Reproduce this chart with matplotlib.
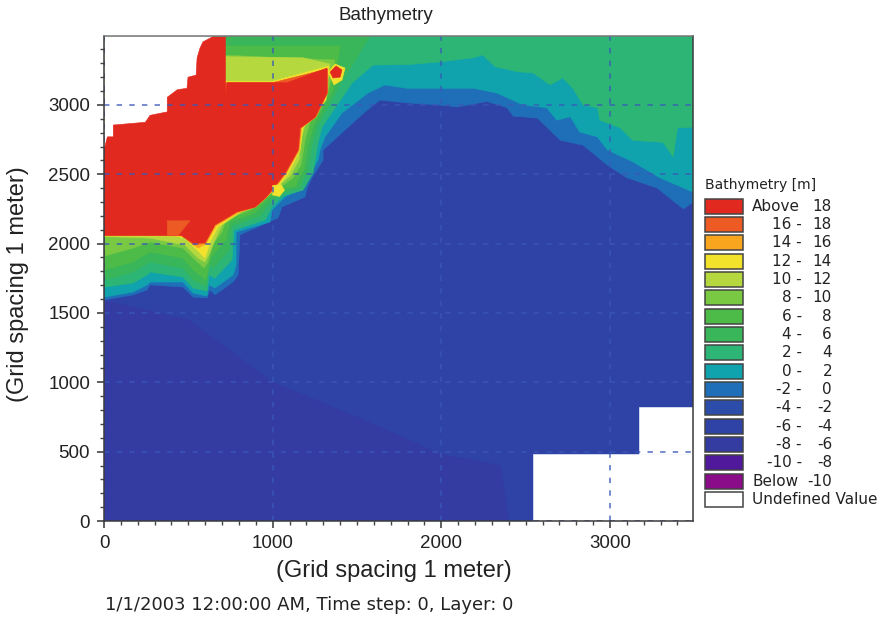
import matplotlib
matplotlib.use("Agg")
import matplotlib.pyplot as plt
from matplotlib.patches import Rectangle
from matplotlib.ticker import MultipleLocator

plt.rcParams['font.family'] = ['Liberation Sans', 'DejaVu Sans']

# legend classes, top to bottom
low_labels = ['', '16 -', '14 -', '12 -', '10 -', '8 -', '6 -', '4 -', '2 -', '0 -',
              '-2 -', '-4 -', '-6 -', '-8 -', '-10 -', '']
high_labels = ['18', '18', '16', '14', '12', '10', '8', '6', '4', '2',
               '0', '-2', '-4', '-6', '-8', '-10']
class_colors = ['#e2291f', '#ee5a24', '#f9a61e', '#f2e22c', '#b5d83f', '#7ac943',
                '#4dbb47', '#39b55a', '#2db575', '#10a3ae', '#1f6fb8', '#2b4ca8',
                '#2f42a6', '#343ca2', '#50189b', '#8b0c88']

# contour lines, (x, y) in meters, east to west
# each one is the top edge of its class
c_m6 = [(0, 1590), (500, 1450), (1000, 1000), (1500, 750), (2000, 480), (2350, 400),
        (2400, 0), (0, 0)]
c_m2 = [(3495, 2300), (3435, 2250), (3280, 2400), (3100, 2475), (2985, 2565), (2840, 2710),
        (2705, 2745), (2570, 2905), (2425, 2920), (2390, 2980), (2270, 3025), (2095, 2985),
        (1990, 3000), (1795, 3015), (1635, 3035), (1547, 2949), (1429, 2819), (1299, 2675),
        (1299, 2603), (1233, 2473), (1204, 2401), (1192, 2336), (1055, 2264), (1032, 2185),
        (806, 2063), (795, 1774), (765, 1723), (658, 1630), (628, 1666), (611, 1608),
        (528, 1615), (468, 1687), (273, 1702), (255, 1666), (172, 1630), (5, 1595), (0, 1595)]
c_0 = [(3495, 2370), (3295, 2475), (3135, 2590), (2985, 2675), (2925, 2770), (2820, 2805),
       (2765, 2915), (2685, 2890), (2625, 2980), (2485, 3000), (2330, 3085), (2190, 3120),
       (1990, 3120), (1795, 3120), (1666, 3144), (1565, 3086), (1411, 2942), (1310, 2769),
       (1281, 2675), (1269, 2603), (1222, 2495), (1192, 2408), (1073, 2336), (996, 2242),
       (984, 2156), (783, 2084), (783, 1846), (765, 1774), (658, 1680), (623, 1702),
       (611, 1622), (528, 1644), (468, 1723), (273, 1723), (255, 1702), (172, 1651),
       (5, 1615), (0, 1615)]
c_2 = [(3495, 2840), (3400, 2835), (3375, 2625), (3315, 2730), (3135, 2745), (3060, 2835),
       (2940, 2890), (2925, 2980), (2840, 3000), (2780, 3120), (2720, 3195), (2645, 3145),
       (2545, 3230), (2450, 3240), (2320, 3275), (2245, 3360), (2190, 3340), (1990, 3310),
       (1795, 3290), (1595, 3288), (1471, 3158), (1293, 2841), (1269, 2725), (1239, 2509),
       (1204, 2437), (1180, 2386), (1061, 2343), (996, 2264), (955, 2170), (771, 2098),
       (759, 1882), (658, 1752), (623, 1774), (611, 1658), (528, 1680), (468, 1759),
       (273, 1795), (255, 1774), (172, 1716), (5, 1687), (0, 1687)]
c_4 = [(1577, 3497), (1400, 3144), (1269, 2855), (1233, 2711), (1210, 2531), (1174, 2444),
       (1162, 2401), (1050, 2365), (972, 2278), (925, 2199), (759, 2127), (741, 1954),
       (700, 1896), (646, 1824), (623, 1846), (605, 1694), (528, 1738), (468, 1824),
       (273, 1867), (172, 1795), (5, 1738), (0, 1738)]
c_6 = [(1400, 3425), (1358, 3107), (1245, 2855), (1210, 2711), (1186, 2531), (1150, 2459),
       (1139, 2415), (1032, 2386), (949, 2293), (895, 2221), (747, 2156), (723, 2026),
       (670, 1954), (634, 1896), (605, 1738), (528, 1810), (468, 1896), (273, 1939),
       (172, 1867), (5, 1810), (0, 1810)]
c_8 = [(1370, 3324), (1334, 3122), (1222, 2877), (1192, 2747), (1168, 2567), (1121, 2473),
       (1038, 2401), (925, 2300), (866, 2242), (723, 2170), (700, 2084), (646, 1997),
       (617, 1867), (593, 1824), (528, 1896), (468, 1968), (273, 2012), (172, 1968),
       (5, 1911), (0, 3396)]
c_10 = [(1340, 3295), (1322, 3144), (1204, 2891), (1174, 2783), (1156, 2603), (1103, 2487),
        (1014, 2394), (913, 2307), (806, 2221), (700, 2134), (658, 2026), (628, 1939),
        (599, 1867), (557, 1896), (480, 1990), (273, 2040), (5, 2050), (0, 3360), (1180, 3340)]
c_12 = [(1334, 3281), (1316, 3035), (1180, 2834), (1162, 2675), (1091, 2502), (1008, 2379),
        (919, 2307), (789, 2213), (676, 2120), (634, 2026), (599, 1896), (551, 1954),
        (480, 2040), (421, 2055), (5, 2055), (0, 3170), (1000, 3170)]
c_14 = [(1328, 3252), (1328, 3090), (1258, 2913), (1172, 2834), (1158, 2675), (1083, 2509),
        (1004, 2386), (961, 2329), (900, 2264), (795, 2221), (664, 2127), (605, 1997),
        (557, 1968), (463, 2055), (5, 2060), (0, 3160), (1000, 3160)]
c_16 = [(1325, 3260), (1325, 3088), (1255, 2913), (1167, 2834), (1154, 2675), (1078, 2509),
        (1000, 2386), (958, 2329), (897, 2264), (789, 2228), (658, 2134), (599, 2004),
        (534, 1990), (457, 2060), (5, 2060), (0, 3160), (1000, 3160)]
land = [(640, 3490), (720, 3490), (720, 3050), (730, 3160), (1085, 3160), (1322, 3266),
        (1322, 3086), (1251, 2913), (1162, 2834), (1150, 2675), (1073, 2509), (996, 2386),
        (955, 2329), (895, 2264), (789, 2230), (658, 2135), (599, 2005), (530, 2005),
        (457, 2060), (0, 2060), (0, 2675), (20, 2770), (55, 2770), (55, 2855), (245, 2875),
        (273, 2925), (375, 2950), (375, 3055), (435, 3110), (492, 3120), (498, 3200),
        (546, 3215), (552, 3340), (569, 3410), (587, 3455), (634, 3485)]
patch_16 = [(375, 2060), (375, 2165), (510, 2165), (440, 2060)]
spot_yellow = [(1328, 3237), (1370, 3295), (1429, 3266), (1411, 3180), (1364, 3144)]
spot_red = [(1340, 3237), (1376, 3281), (1411, 3252), (1400, 3201), (1358, 3194)]
spot_coast = [(1000, 2420), (1050, 2425), (1070, 2385), (1040, 2340), (1000, 2350)]
undefined_nw = [(0, 3497), (640, 3497), (640, 2675), (0, 2675)]
undefined_se1 = [(2545, 0), (3500, 0), (3500, 483), (2545, 483)]
undefined_se2 = [(3170, 483), (3500, 483), (3500, 820), (3170, 820)]

fig = plt.figure(figsize=(8.84, 6.19), dpi=100, facecolor='white')
W, H = 884.0, 619.0
ax = fig.add_axes([104 / W, 1 - 521 / H, 589 / W, 485 / H])
ax.set_facecolor(class_colors[12])


def poly(points, color, z):
    xs = [p[0] for p in points]
    ys = [p[1] for p in points]
    ax.fill(xs, ys, color=color, lw=0.4, zorder=z)


def region(line, color, z):
    # everything north-west of the contour
    poly(line + [(0, 3497), (3500, 3497)], color, z)


poly(c_m6, class_colors[13], 1)
region(c_m2, class_colors[10], 2)
region(c_0, class_colors[9], 3)
region(c_2, class_colors[8], 4)
poly(c_4 + [(0, 3497)], class_colors[7], 5)
poly(c_6 + [(0, 3425)], class_colors[6], 6)
poly(c_8, class_colors[5], 7)
poly(c_10, class_colors[4], 8)
poly(c_12, class_colors[3], 9)
poly(c_14, class_colors[2], 10)
poly(c_16, class_colors[1], 11)
poly(undefined_nw, 'white', 12)
poly(land, class_colors[0], 13)
poly(patch_16, class_colors[1], 14)
poly(spot_yellow, class_colors[3], 14)
poly(spot_red, class_colors[0], 15)
poly(spot_coast, class_colors[3], 14)
poly(undefined_se1, 'white', 14)
poly(undefined_se2, 'white', 14)

ax.set_xlim(0, 3492)
ax.set_ylim(0, 3497)
ax.xaxis.set_major_locator(MultipleLocator(1000))
ax.xaxis.set_minor_locator(MultipleLocator(100))
ax.yaxis.set_major_locator(MultipleLocator(500))
ax.yaxis.set_minor_locator(MultipleLocator(100))
ax.tick_params(which='major', length=5, width=1.1, color='#333333', labelsize=13.5, labelcolor='#222222', pad=5)
ax.tick_params(which='minor', length=3, width=1.0, color='#444444')
ax.grid(True, which='major', color='#3a58b8', ls=(0, (3, 4)), lw=1.3, alpha=0.75)
# grid has to sit over the filled classes
ax.xaxis.set_zorder(25)
ax.yaxis.set_zorder(25)
for name, s in ax.spines.items():
    s.set_color('#3a3a3a')
    s.set_linewidth(1.1)
    s.set_zorder(30)
ax.spines['top'].set_color('#777777')


def ftext(px, py, s, **kw):
    return fig.text(px / W, 1 - py / H, s, va='center', color='#222222', **kw)


wide = ['DejaVu Sans']
ftext(386, 16, 'Bathymetry', ha='center', fontsize=13.5)
ftext(394, 571, '(Grid spacing 1 meter)', ha='center', fontsize=17)
ftext(18, 284, '(Grid spacing 1 meter)', ha='center', rotation=90, fontsize=17)
ftext(105, 605, '1/1/2003 12:00:00 AM, Time step: 0, Layer: 0', ha='left', fontsize=13, family=wide)

# legend
ftext(705, 185, 'Bathymetry [m]', ha='left', fontsize=10, family=wide)
row_h = 18.35
for i, col in enumerate(class_colors):
    cy = 206 + i * row_h
    fig.add_artist(Rectangle((705 / W, 1 - (cy + 7.5) / H), 38 / W, 15 / H, transform=fig.transFigure,
                             facecolor=col, edgecolor='#444444', lw=1.1))
    if i == 0:
        ftext(752, cy, 'Above', ha='left', fontsize=11, family=wide)
    elif i == len(class_colors) - 1:
        ftext(752, cy, 'Below', ha='left', fontsize=11, family=wide)
    else:
        ftext(802, cy, low_labels[i], ha='right', fontsize=11, family=wide)
    ftext(832, cy, high_labels[i], ha='right', fontsize=11, family=wide)
cy = 206 + len(class_colors) * row_h
fig.add_artist(Rectangle((705 / W, 1 - (cy + 7.5) / H), 38 / W, 15 / H, transform=fig.transFigure,
                         facecolor='white', edgecolor='#444444', lw=1.1))
ftext(752, cy, 'Undefined Value', ha='left', fontsize=11, family=wide)

fig.savefig('out.png', dpi=100)
